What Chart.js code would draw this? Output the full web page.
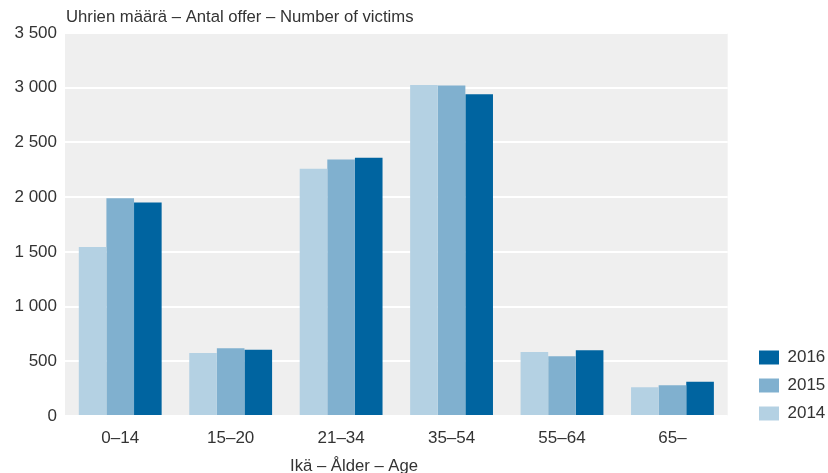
<!DOCTYPE html>
<html>
<head>
    <title>Number of victims by age</title>
    <script src="https://cdn.jsdelivr.net/npm/chart.js"></script>
</head>
<body style="margin: 0; background-color: #ffffff;">
    <div style="width: 828px; height: 473px; position: relative;">
        <canvas id="myChart"></canvas>
    </div>

    <script>
        var categories = ['0–14', '15–20', '21–34', '35–54', '55–64', '65–'];
        var values2014 = [1545, 575, 2260, 3025, 585, 262];
        var values2015 = [1990, 620, 2345, 3020, 545, 280];
        var values2016 = [1950, 605, 2360, 2940, 600, 314];
        var yTicks = [0, 500, 1000, 1500, 2000, 2500, 3000, 3500];
        var yTitle = 'Uhrien määrä – Antal offer – Number of victims';
        var xTitle = 'Ikä – Ålder – Age';

        var fontFamily = "'Liberation Sans', Arial, sans-serif";
        var textColor = '#333333';

        // thousands with a space: 3 500
        function fmt(v) {
            return String(v).replace(/\B(?=(\d{3})+(?!\d))/g, ' ');
        }

        // grey plot background, the two axis texts, legend nudged into place
        var extras = {
            id: 'extras',
            afterLayout: function (chart) {
                var lg = chart.legend;
                var dx = 748 - lg.left;
                var dy = 433 - lg.bottom;
                lg.left += dx; lg.right += dx;
                lg.top += dy; lg.bottom += dy;
            },
            beforeDraw: function (chart) {
                var c = chart.ctx, a = chart.chartArea;
                c.save();
                c.fillStyle = '#efefef';
                c.fillRect(a.left, a.top, a.right - a.left, a.bottom - a.top);
                c.restore();
            },
            afterDraw: function (chart) {
                var c = chart.ctx, a = chart.chartArea;
                c.save();
                c.fillStyle = textColor;
                c.font = '16.7px ' + fontFamily;
                c.textBaseline = 'middle';
                c.textAlign = 'left';
                c.fillText(yTitle, a.left + 1, 17);
                c.fillText(xTitle, a.left + 225, 466);
                c.restore();
            }
        };

        var ctx = document.getElementById('myChart').getContext('2d');
        var myChart = new Chart(ctx, {
            type: 'bar',
            data: {
                labels: categories,
                datasets: [
                    { label: '2014', data: values2014, backgroundColor: '#b4d1e3' },
                    { label: '2015', data: values2015, backgroundColor: '#80b0cf' },
                    { label: '2016', data: values2016, backgroundColor: '#0064a0' }
                ]
            },
            options: {
                responsive: true,
                maintainAspectRatio: false,
                animation: false,
                layout: {
                    padding: { top: 33, right: 13, bottom: 0, left: 0 }
                },
                datasets: {
                    bar: { categoryPercentage: 0.75, barPercentage: 1.0, borderWidth: 0 }
                },
                scales: {
                    x: {
                        afterFit: function (axis) { axis.height = 57; },
                        grid: { display: false, drawTicks: false },
                        border: { display: false },
                        ticks: { color: textColor, font: { size: 17, family: fontFamily }, padding: 12 }
                    },
                    y: {
                        min: 0,
                        max: 3500,
                        afterFit: function (axis) { axis.width = 65; },
                        afterBuildTicks: function (axis) {
                            axis.ticks = yTicks.map(function (v) { return { value: v }; });
                        },
                        grid: { color: '#ffffff', lineWidth: 2, drawTicks: false },
                        border: { display: false },
                        ticks: {
                            color: textColor,
                            font: { size: 17, family: fontFamily },
                            padding: 8,
                            callback: function (v) { return fmt(v); }
                        }
                    }
                },
                plugins: {
                    legend: {
                        position: 'right',
                        align: 'end',
                        reverse: true,
                        labels: {
                            color: textColor,
                            font: { size: 17, family: fontFamily },
                            boxWidth: 20,
                            boxHeight: 14,
                            padding: 11
                        }
                    },
                    tooltip: { enabled: false }
                }
            },
            plugins: [extras]
        });
    </script>
</body>
</html>
